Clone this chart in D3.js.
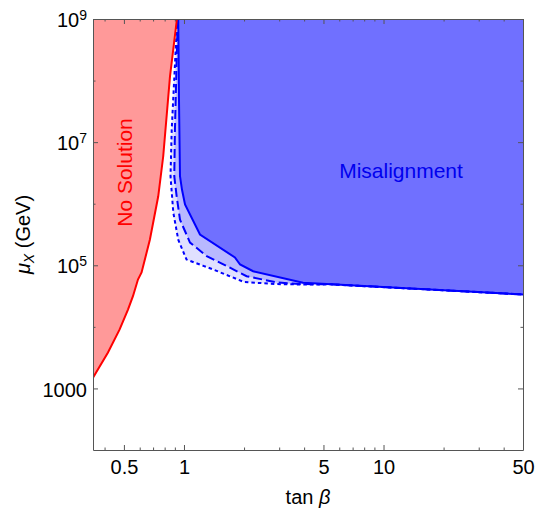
<!DOCTYPE html>
<html>
<head>
<meta charset="utf-8">
<script src="https://cdn.jsdelivr.net/npm/d3@7"></script>
<style>
  body { margin: 0; background: white; }
  text { font-family: "Liberation Sans", Arial, sans-serif; }
</style>
</head>
<body>
<div id="vizContainer"></div>
<script>
let w = 537;
let h = 513;
let plotLeft = 93, plotRight = 523, plotTop = 19, plotBottom = 450;

// red "No Solution" boundary (tan beta, mu_X)
let redTan = [0.35, 0.416, 0.476, 0.524, 0.555, 0.588, 0.613, 0.675, 0.743, 0.787, 0.851, 0.922];
let redMu = [1490, 3840, 9080, 19100, 31500, 58700, 76400, 262000, 1.32e6, 5.9e6, 1.17e8, 1e9];

// blue misalignment boundaries
let solidTan = [0.936, 0.944, 0.955, 0.977, 1.012, 1.203, 1.80, 1.91, 2.22, 3.95, 50];
let solidMu = [1e9, 4.9e7, 2.8e6, 1.7e6, 9.7e5, 3.16e5, 1.34e5, 1.03e5, 8.0e4, 5.2e4, 3.36e4];

let dashedTan = [0.93, 0.901, 0.894, 0.919, 0.955, 1.072, 1.30, 1.64, 2.06, 2.92, 3.82, 5.4, 50];
let dashedMu = [1e9, 1.6e7, 2.8e6, 1.32e6, 5.5e5, 2.34e5, 1.41e5, 9.7e4, 6.65e4, 5.26e4, 4.95e4, 4.92e4, 3.36e4];

let dottedTan = [0.925, 0.868, 0.856, 0.884, 0.936, 1.03, 1.25, 1.40, 2.0, 2.92, 3.82, 5.4, 50];
let dottedMu = [1e9, 1.6e7, 2.8e6, 7.2e5, 2.6e5, 1.24e5, 9.8e4, 8.55e4, 5.35e4, 4.95e4, 4.88e4, 4.9e4, 3.36e4];

// ticks
let xMajor = [0.5, 1, 5, 10, 50];
let xTickLabels = ["0.5", "1", "5", "10", "50"];
let xMinor = [0.4, 0.6, 0.7, 0.8, 0.9, 2, 3, 4, 6, 7, 8, 9, 20, 30, 40];
let yMajor = [1e3, 1e5, 1e7, 1e9];
let yTickBase = ["1000", "10", "10", "10"];
let yTickExp = ["", "5", "7", "9"];
let yMinor = [1e4, 1e6, 1e8];

let viz = d3.select("#vizContainer").append("svg")
    .attr("width", w)
    .attr("height", h)
    .style("background-color", "white")
;

let xScale = d3.scaleLog().domain([0.35, 50]).range([plotLeft, plotRight]);
let yScale = d3.scaleLog().domain([100, 1e9]).range([plotBottom, plotTop]);

function zipPts(xs, ys){
  return xs.map((d, i) => [d, ys[i]]);
}

let redPts = zipPts(redTan, redMu);
let solidPts = zipPts(solidTan, solidMu);
let dashedPts = zipPts(dashedTan, dashedMu);
let dottedPts = zipPts(dottedTan, dottedMu);

let line = d3.line().x(d => xScale(d[0])).y(d => yScale(d[1]));

viz.append("clipPath").attr("id", "plotClip")
  .append("rect")
    .attr("x", plotLeft)
    .attr("y", plotTop)
    .attr("width", plotRight - plotLeft)
    .attr("height", plotBottom - plotTop)
;

let graphics = viz.append("g").attr("clip-path", "url(#plotClip)");

// filled regions, lightest first
graphics.append("path")
    .attr("d", line(dottedPts.concat([[50, 1e9]])) + "Z")
    .attr("fill", "#e0e0ff")
;
graphics.append("path")
    .attr("d", line(dashedPts.concat([[50, 1e9]])) + "Z")
    .attr("fill", "#b8b8ff")
;
graphics.append("path")
    .attr("d", line(solidPts.concat([[50, 1e9]])) + "Z")
    .attr("fill", "#7070ff")
;
graphics.append("path")
    .attr("d", line(redPts.concat([[0.35, 1e9]])) + "Z")
    .attr("fill", "#ff9999")
;

// boundary lines
graphics.append("path")
    .attr("d", line(dottedPts))
    .attr("fill", "none")
    .attr("stroke", "#0000ff")
    .attr("stroke-width", 2)
    .attr("stroke-dasharray", "3.5,3")
;
graphics.append("path")
    .attr("d", line(dashedPts))
    .attr("fill", "none")
    .attr("stroke", "#0000ff")
    .attr("stroke-width", 2)
    .attr("stroke-dasharray", "9,4")
;
graphics.append("path")
    .attr("d", line(solidPts))
    .attr("fill", "none")
    .attr("stroke", "#0000ff")
    .attr("stroke-width", 2)
;
graphics.append("path")
    .attr("d", line(redPts))
    .attr("fill", "none")
    .attr("stroke", "#ff0000")
    .attr("stroke-width", 2)
;

// frame with ticks on all four sides
let frameColor = "#555";

function addAxis(gen, tx, ty, keepDomain){
  let g = viz.append("g")
      .attr("transform", "translate(" + tx + "," + ty + ")")
      .call(gen)
  ;
  g.attr("color", frameColor).attr("font-size", 20).attr("font-family", null);
  if(!keepDomain) g.select(".domain").remove();
  g.selectAll("text").attr("fill", "black");
  return g;
}

addAxis(d3.axisBottom(xScale).tickValues(xMajor).tickSize(-5).tickSizeOuter(0).tickPadding(10)
  .tickFormat((d, i) => xTickLabels[i]), 0, plotBottom, true);
addAxis(d3.axisBottom(xScale).tickValues(xMinor).tickSize(-2.5).tickFormat(""), 0, plotBottom, false);
addAxis(d3.axisTop(xScale).tickValues(xMajor).tickSize(-5).tickSizeOuter(0).tickFormat(""), 0, plotTop, true);
addAxis(d3.axisTop(xScale).tickValues(xMinor).tickSize(-2.5).tickFormat(""), 0, plotTop, false);

let yAxisG = addAxis(d3.axisLeft(yScale).tickValues(yMajor).tickSize(-5).tickSizeOuter(0).tickPadding(6)
  .tickFormat(""), plotLeft, 0, true);
addAxis(d3.axisLeft(yScale).tickValues(yMinor).tickSize(-2.5).tickFormat(""), plotLeft, 0, false);
addAxis(d3.axisRight(yScale).tickValues(yMajor).tickSize(-5).tickSizeOuter(0).tickFormat(""), plotRight, 0, true);
addAxis(d3.axisRight(yScale).tickValues(yMinor).tickSize(-2.5).tickFormat(""), plotRight, 0, false);

// y tick labels with superscripts
yAxisG.selectAll(".tick text")
    .attr("dy", "0.38em")
    .each(function(d, i){
      let t = d3.select(this);
      t.append("tspan").text(yTickBase[i]);
      if(yTickExp[i] != ""){
        t.append("tspan").attr("dy", -7).attr("font-size", 14).text(yTickExp[i]);
      }
    })
;

// axis titles
let xTitle = viz.append("text")
    .attr("x", (plotLeft + plotRight) / 2)
    .attr("y", 504)
    .attr("text-anchor", "middle")
    .attr("font-size", 20)
;
xTitle.append("tspan").text("tan ");
xTitle.append("tspan").attr("font-style", "italic").text("β");

let yTitle = viz.append("text")
    .attr("transform", "translate(30," + ((plotTop + plotBottom) / 2) + ") rotate(-90)")
    .attr("text-anchor", "middle")
    .attr("font-size", 20)
;
yTitle.append("tspan").attr("font-style", "italic").text("μ");
yTitle.append("tspan").attr("font-style", "italic").attr("font-size", 14).attr("dy", 4).text("X");
yTitle.append("tspan").attr("dy", -4).text(" (GeV)");

// region labels
viz.append("text")
    .attr("transform", "translate(132,172.5) rotate(-90)")
    .attr("text-anchor", "middle")
    .attr("font-size", 21)
    .attr("fill", "#ff0000")
    .text("No Solution")
;
viz.append("text")
    .attr("x", 401)
    .attr("y", 178)
    .attr("text-anchor", "middle")
    .attr("font-size", 21)
    .attr("fill", "#0000ee")
    .text("Misalignment")
;
</script>
</body>
</html>
